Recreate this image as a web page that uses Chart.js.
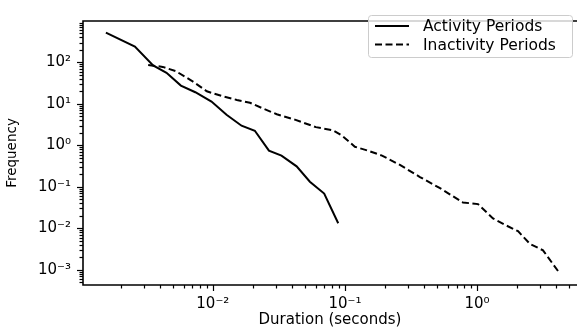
<!DOCTYPE html>
<html>
<head>
<meta charset="utf-8">
<script src="https://cdn.jsdelivr.net/npm/chart.js@4.4.1/dist/chart.umd.min.js"></script>
<style>
  html, body { margin: 0; padding: 0; background: #fff; }
  canvas { display: block; }
</style>
</head>
<body>
<canvas id="chart" width="577" height="329"></canvas>
<script>
// durations (seconds) and frequencies
const activityX = [0.00155, 0.00257, 0.00353, 0.00446, 0.00573, 0.00737, 0.00977, 0.0127, 0.0165,
    0.0208, 0.0266, 0.0331, 0.0431, 0.0543, 0.0697, 0.0890];
const activityY = [518, 240, 84, 56, 27.5, 19, 11.3, 5.46, 2.97, 2.24, 0.747, 0.564, 0.311, 0.133,
    0.0686, 0.0132];

const inactivityX = [0.00324, 0.00418, 0.00525, 0.00693, 0.00901, 0.0117, 0.0152, 0.0191, 0.0235,
    0.0305, 0.0418, 0.0603, 0.0811, 0.0949, 0.119, 0.149, 0.191, 0.261, 0.370, 0.525, 0.783,
    1.018, 1.322, 1.630, 2.045, 2.520, 3.162, 4.11];
const inactivityY = [86.2, 77.5, 61.1, 35.9, 20.0, 15.4, 12.4, 10.6, 7.92, 5.61, 4.15, 2.74, 2.31,
    1.72, 0.923, 0.747, 0.564, 0.337, 0.172, 0.0929, 0.0419, 0.0383, 0.0173, 0.0121, 0.00853,
    0.00419, 0.00295, 0.000933];

const seriesLabels = ['Activity Periods', 'Inactivity Periods'];
const xDecades = [0.01, 0.1, 1];
const yDecades = [0.001, 0.01, 0.1, 1, 10, 100];

const FONT = 'DejaVu Sans';
const SUP = { '-': '⁻', '0': '⁰', '1': '¹', '2': '²', '3': '³', '4': '⁴', '5': '⁵', '6': '⁶', '7': '⁷', '8': '⁸', '9': '⁹' };

// 10^n label like matplotlib's log formatter
const powLabel = (v) => {
    const e = String(Math.round(Math.log10(v)));
    return '10' + e.split('').map(c => SUP[c]).join('');
};

const toPoints = (xs, ys) => xs.map((x, i) => ({ x: x, y: ys[i] }));

/**
 * spines, major/minor ticks and the boxed legend, drawn the matplotlib way
 */
const mplFrame = {
    id: 'mplFrame',
    afterDatasetsDraw: (chart) => {
        const ctx = chart.ctx;
        const area = chart.chartArea;
        const xs = chart.scales.x;
        const ys = chart.scales.y;
        ctx.save();
        ctx.strokeStyle = '#000';

        // ticks
        ctx.lineWidth = 1.2;
        for (let e = -4; e <= 3; e++) {
            for (let m = 1; m <= 9; m++) {
                const v = m * Math.pow(10, e);
                const len = m === 1 ? 6 : 3.5;
                if (v >= xs.min && v <= xs.max) {
                    const px = Math.round(xs.getPixelForValue(v)) + 0.5;
                    ctx.beginPath();
                    ctx.moveTo(px, area.bottom);
                    ctx.lineTo(px, area.bottom + len);
                    ctx.stroke();
                }
                if (v >= ys.min && v <= ys.max) {
                    const py = Math.round(ys.getPixelForValue(v)) + 0.5;
                    ctx.beginPath();
                    ctx.moveTo(area.left, py);
                    ctx.lineTo(area.left - len, py);
                    ctx.stroke();
                }
            }
        }

        // spines: left, bottom, top (right one falls off the picture)
        ctx.lineWidth = 1.6;
        ctx.beginPath();
        ctx.moveTo(area.right, area.top);
        ctx.lineTo(area.left, area.top);
        ctx.lineTo(area.left, area.bottom);
        ctx.lineTo(area.right, area.bottom);
        ctx.stroke();

        // legend
        const bx = 368, by = 15, bw = 204, bh = 42;
        ctx.fillStyle = 'rgba(255,255,255,0.8)';
        ctx.strokeStyle = '#cccccc';
        ctx.lineWidth = 1;
        ctx.beginPath();
        ctx.roundRect(bx + 0.5, by + 0.5, bw, bh, 3);
        ctx.fill();
        ctx.stroke();
        ctx.font = `15.5px "${FONT}"`;
        ctx.textAlign = 'left';
        ctx.textBaseline = 'middle';
        chart.data.datasets.forEach((ds, i) => {
            const ry = 26 + i * 18.5;
            ctx.strokeStyle = ds.borderColor;
            ctx.lineWidth = ds.borderWidth;
            ctx.setLineDash(ds.borderDash || []);
            ctx.beginPath();
            ctx.moveTo(375, ry);
            ctx.lineTo(409, ry);
            ctx.stroke();
            ctx.setLineDash([]);
            ctx.fillStyle = '#000';
            ctx.fillText(ds.label, 423, ry + 1);
        });
        ctx.restore();
    }
};

new Chart(document.getElementById('chart').getContext('2d'), {
    type: 'line',
    data: {
        datasets: [{
            label: seriesLabels[0],
            data: toPoints(activityX, activityY),
            borderColor: '#000',
            borderWidth: 2,
            pointRadius: 0,
            tension: 0,
        }, {
            label: seriesLabels[1],
            data: toPoints(inactivityX, inactivityY),
            borderColor: '#000',
            borderWidth: 2,
            borderDash: [7, 3.5],
            pointRadius: 0,
            tension: 0,
        }]
    },
    options: {
        responsive: false,
        animation: false,
        events: [],
        layout: { padding: { top: 8, right: 0, left: 0, bottom: 0 } },
        plugins: {
            legend: { display: false },
            tooltip: { enabled: false },
        },
        scales: {
            x: {
                type: 'logarithmic',
                min: 0.00104,
                max: 5.72,
                afterBuildTicks: (scale) => { scale.ticks = xDecades.map(v => ({ value: v, major: true })); },
                afterFit: (scale) => { scale.height = 44; },
                grid: { display: false, drawTicks: false },
                border: { display: false },
                ticks: {
                    autoSkip: false,
                    maxRotation: 0,
                    padding: 10,
                    color: '#000',
                    font: { family: FONT, size: 15 },
                    callback: (v) => powLabel(v),
                },
                title: {
                    display: true,
                    text: 'Duration (seconds)',
                    color: '#000',
                    font: { family: FONT, size: 15 },
                    padding: { top: 0, bottom: 0 },
                },
            },
            y: {
                type: 'logarithmic',
                min: 0.00043,
                max: 990,
                afterBuildTicks: (scale) => { scale.ticks = yDecades.map(v => ({ value: v, major: true })); },
                afterFit: (scale) => { scale.width = 83; },
                grid: { display: false, drawTicks: false },
                border: { display: false },
                ticks: {
                    autoSkip: false,
                    padding: 12,
                    color: '#000',
                    font: { family: FONT, size: 15 },
                    callback: (v) => powLabel(v),
                },
                title: {
                    display: true,
                    text: 'Frequency',
                    color: '#000',
                    font: { family: FONT, size: 13.5 },
                    padding: { top: 4, bottom: 0 },
                },
            },
        },
    },
    plugins: [mplFrame],
});
</script>
</body>
</html>
